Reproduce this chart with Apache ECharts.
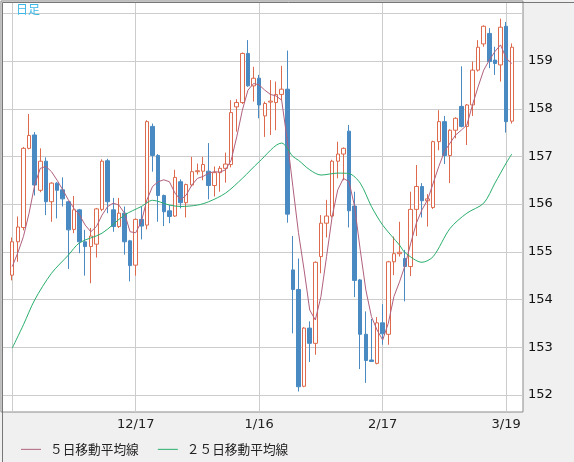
<!DOCTYPE html>
<html>
<head>
<meta charset="utf-8">
<script src="https://cdn.jsdelivr.net/npm/echarts@6/dist/echarts.min.js"></script>
<style>
html, body { margin: 0; padding: 0; background: #f0f0f0; }
#chart { width: 574px; height: 462px; }
</style>
</head>
<body>
<div id="chart"></div>
<script>
// 日付（日足）
var dates = ['11/15','11/18','11/19','11/20','11/21','11/22','11/25','11/26','11/27','11/28','11/29',
    '12/2','12/3','12/4','12/5','12/6','12/9','12/10','12/11','12/12','12/13','12/16','12/17','12/18','12/19','12/20','12/23','12/24','12/25','12/26','12/27','12/30','12/31',
    '1/1','1/2','1/3','1/6','1/7','1/8','1/9','1/10','1/13','1/14','1/15','1/16','1/17','1/20','1/21','1/22','1/23','1/24','1/27','1/28','1/29','1/30','1/31',
    '2/3','2/4','2/5','2/6','2/7','2/10','2/11','2/12','2/13','2/14','2/17','2/18','2/19','2/20','2/21','2/24','2/25','2/26','2/27','2/28',
    '3/3','3/4','3/5','3/6','3/7','3/10','3/11','3/12','3/13','3/14','3/17','3/18','3/19','3/20']
var labelDates = ['12/17', '1/16', '2/17', '3/19']
var yTicks = [152, 153, 154, 155, 156, 157, 158, 159, 160]

var open = [154.51,155.21,155.51,157.17,157.45,156.29,156.90,156.05,156.44,156.30,
    156.05,155.47,155.88,155.21,155.11,155.16,155.89,156.91,155.88,155.53,
    155.81,155.23,154.72,155.68,155.56,157.63,157.02,156.18,155.86,155.75,
    156.47,156.03,156.40,156.68,156.69,156.69,156.39,156.66,156.75,156.83,
    158.04,158.13,159.16,158.48,158.64,157.85,158.14,158.13,158.30,158.41,
    154.62,154.21,152.18,153.40,153.08,154.90,155.60,155.75,156.90,157.05,
    157.53,155.96,154.41,153.27,152.73,152.66,153.51,153.27,154.79,154.96,
    154.86,154.69,155.89,156.37,156.07,155.93,157.31,157.73,157.02,157.55,
    158.05,157.63,158.08,158.81,159.36,159.58,159.02,158.92,159.73,157.74]
var close = [155.21,155.52,157.17,157.44,156.40,156.90,156.05,156.44,156.29,156.11,
    155.46,155.88,155.21,155.11,155.33,155.90,156.90,156.05,155.53,155.81,
    155.21,154.71,155.68,155.54,157.73,157.02,156.18,155.84,155.74,156.56,
    156.03,156.41,156.68,156.70,156.83,156.39,156.66,156.75,156.84,157.92,
    158.13,159.16,158.48,158.64,158.08,158.11,158.16,158.30,158.41,155.79,
    154.21,152.17,153.40,153.08,154.78,155.60,155.75,156.90,157.05,157.17,
    155.86,154.40,153.27,152.72,152.70,153.51,153.28,154.79,154.96,154.99,
    154.69,155.89,156.37,156.07,156.11,157.31,157.73,157.02,157.55,157.80,
    157.63,158.08,158.81,159.29,159.73,158.99,158.95,159.71,157.73,159.29]
var low = [154.40,154.79,155.45,157.15,156.18,156.25,155.77,155.63,155.70,155.95,
    154.64,155.39,154.97,154.50,154.34,154.88,155.85,155.81,155.42,155.50,
    154.94,154.38,154.50,155.26,155.47,156.68,155.63,155.54,155.60,155.73,
    155.91,155.72,156.37,156.62,156.50,156.10,156.16,156.26,156.45,156.77,
    157.52,158.10,158.46,158.15,157.80,157.41,157.45,157.55,158.18,155.61,
    153.29,152.07,152.16,152.69,152.84,154.55,155.30,155.72,156.54,156.50,
    155.51,154.05,152.54,152.25,152.69,152.64,153.05,153.05,154.51,154.90,
    153.96,154.49,155.33,155.72,155.53,155.90,157.13,156.84,156.44,157.38,
    157.61,157.24,157.85,158.78,159.30,158.85,158.71,158.57,157.50,157.69]
var high = [155.30,155.74,157.20,157.89,157.51,157.17,156.98,156.46,156.46,156.56,
    156.07,156.17,155.90,155.46,155.50,155.92,156.94,156.95,156.13,156.13,
    155.95,155.25,155.70,155.95,157.76,157.69,157.05,156.20,155.98,156.72,
    156.52,156.43,156.99,156.85,156.99,157.28,156.79,156.80,157.08,158.18,
    158.20,159.18,159.44,158.88,158.71,158.15,158.60,158.57,158.90,159.22,
    155.33,154.86,153.42,153.54,154.80,155.77,156.09,156.93,157.31,157.19,
    157.66,156.26,154.43,153.75,153.59,153.63,153.90,154.81,155.32,155.63,
    155.04,156.26,156.82,156.44,156.21,157.33,157.97,157.85,157.57,157.82,
    158.89,158.10,158.99,159.44,159.75,159.69,159.30,159.89,159.82,159.37]

// ５日移動平均線
var ma5 = [154.69,154.98,155.32,155.81,156.40,156.75,156.79,156.68,156.50,156.30,
    156.09,155.91,155.77,155.56,155.42,155.53,155.77,155.95,156.02,155.98,
    155.81,155.42,155.40,155.63,156.09,156.37,156.47,156.51,156.47,156.23,
    156.09,156.19,156.40,156.54,156.58,156.65,156.68,156.67,156.72,156.92,
    157.41,157.97,158.39,158.53,158.50,158.39,158.30,158.27,158.18,157.34,
    156.37,155.40,154.62,153.78,153.57,154.06,154.90,155.74,156.30,156.54,
    156.47,155.95,155.04,154.20,153.64,153.36,153.15,153.50,154.06,154.37,
    154.72,155.18,155.60,155.88,156.09,156.44,156.79,157.10,157.28,157.45,
    157.55,157.66,158.08,158.46,158.81,159.02,159.20,159.34,159.06,158.95]

// ２５日移動平均線（読み取り点のみ）
var ma25Idx = [0, 2, 4, 7, 10, 12, 16, 20, 23, 25, 28, 30, 33, 35, 38, 41, 44, 48, 50, 51,
    53, 55, 58, 60, 62, 64, 66, 69, 70, 73, 75, 78, 81, 84, 86, 88, 89]
var ma25Val = [152.98, 153.47, 153.99, 154.55, 154.93, 155.19, 155.39, 155.77, 155.95, 156.08,
    155.98, 155.95, 155.98, 156.05, 156.23, 156.54, 156.89, 157.28, 157.00, 156.92,
    156.72, 156.61, 156.65, 156.64, 156.44, 155.95, 155.56, 155.14, 154.98, 154.78,
    154.90, 155.49, 155.81, 156.02, 156.44, 156.86, 157.05]

var pad = ['_a', '_b']
var cats = pad.concat(dates, ['_c', '_d'])
var ohlc = dates.map(function (d, i) {
    return [open[i], close[i], low[i], high[i]]
})
var ma25 = ma25Idx.map(function (i, k) {
    return [dates[i], ma25Val[k]]
})

function isMark(idx) {
    return labelDates.indexOf(cats[idx]) >= 0 || idx === 2
}

var chart = echarts.init(document.getElementById('chart'))
var option = {
    animation: false,
    backgroundColor: '#f0f0f0',
    grid: {
        left: 1, top: 1, width: 522, height: 411,
        show: true, backgroundColor: '#fff', borderColor: '#8a8a8a', borderWidth: 1
    },
    xAxis: {
        type: 'category',
        data: cats,
        boundaryGap: false,
        axisLine: { show: false },
        axisTick: { show: false },
        axisLabel: {
            interval: function (idx, v) { return labelDates.indexOf(v) >= 0 },
            color: '#222', fontSize: 13, fontFamily: 'DejaVu Sans', margin: 6
        },
        splitLine: {
            show: true,
            interval: function (idx) { return isMark(idx) },
            lineStyle: { color: '#cccccc', width: 1 }
        }
    },
    yAxis: {
        type: 'value',
        position: 'right',
        min: 151.64,
        max: 160.26,
        axisLine: { show: false },
        axisTick: { show: false, customValues: yTicks },
        axisLabel: {
            customValues: yTicks.slice(0, 8),
            color: '#111', fontSize: 13, fontFamily: 'DejaVu Sans', margin: 5
        },
        splitLine: { show: true, lineStyle: { color: '#cccccc', width: 1 } }
    },
    legend: {
        left: 16, top: 438,
        itemWidth: 20, itemHeight: 1, itemGap: 19,
        icon: 'rect',
        textStyle: { color: '#222', fontSize: 12.7, fontFamily: 'Noto Sans CJK JP', padding: [0, 0, 0, 4] },
        data: ['５日移動平均線', '２５日移動平均線']
    },
    graphic: [{
        type: 'text', left: 16, top: 3, z: 100,
        style: { text: '日足', fill: '#3cb8e6', fontSize: 12, fontFamily: 'Noto Sans CJK JP' }
    }, {
        type: 'rect', left: 0, top: 0, z: 100,
        shape: { width: 573, height: 461 },
        style: { fill: 'none', stroke: '#777', lineWidth: 1 }
    }],
    series: [{
        type: 'candlestick',
        data: pad.map(function () { return '-' }).concat(ohlc),
        barWidth: 4,
        clip: false,
        itemStyle: {
            color: '#ffffff', borderColor: '#dd6a4c',
            color0: '#4a8ac2', borderColor0: '#4a8ac2',
            borderWidth: 1
        }
    }, {
        name: '５日移動平均線',
        type: 'line',
        data: pad.map(function () { return '-' }).concat(ma5),
        symbol: 'none',
        lineStyle: { color: '#b0607e', width: 1 },
        itemStyle: { color: '#b0607e' }
    }, {
        name: '２５日移動平均線',
        type: 'line',
        data: ma25,
        connectNulls: true,
        symbol: 'none',
        smooth: 0.3,
        lineStyle: { color: '#2aae6c', width: 1 },
        itemStyle: { color: '#2aae6c' }
    }]
}
chart.setOption(option)
</script>
</body>
</html>
